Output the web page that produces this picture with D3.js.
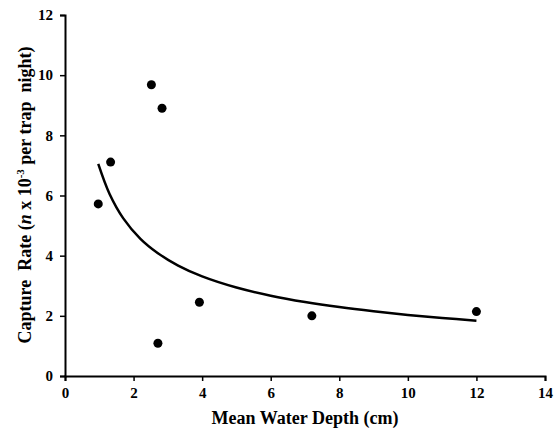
<!DOCTYPE html>
<html lang="en">
<head>
  <meta charset="UTF-8" />
  <script src="https://d3js.org/d3.v7.min.js"></script>
  <title>Capture rate</title>
  <style>
    body { margin: 0; background: #fff; }
    text { font-family: "Liberation Serif", "Times New Roman", serif; font-weight: bold; }
  </style>
</head>
<body>
<script type="text/javascript">
// observed points
var depth = [0.97, 1.33, 2.52, 2.83, 2.71, 3.92, 7.2, 12.0];
var rate  = [5.72, 7.11, 9.68, 8.9, 1.09, 2.45, 2.0, 2.14];
// trend line
var trendX = [0.97, 1.3, 1.7, 2.2, 2.7, 3.3, 4, 5, 6, 7, 8, 9, 10, 11, 12];
var trendY = [7.05, 6.05, 5.24, 4.56, 4.09, 3.67, 3.31, 2.94, 2.67, 2.46, 2.29, 2.15, 2.03, 1.93, 1.84];
var xTicks = [0, 2, 4, 6, 8, 10, 12, 14];
var yTicks = [0, 2, 4, 6, 8, 10, 12];

var width = 556, height = 430;
var svg = d3.select("body").append("svg").attr("width", width).attr("height", height);

var x = d3.scaleLinear().domain([0, 14]).range([65, 545]);
var y = d3.scaleLinear().domain([0, 12]).range([376, 15]);

var xAxis = svg.append("g")
  .attr("transform", "translate(0,376)")
  .call(d3.axisBottom(x).tickValues(xTicks).tickSize(5).tickPadding(6));
var yAxis = svg.append("g")
  .attr("transform", "translate(65,0)")
  .call(d3.axisLeft(y).tickValues(yTicks).tickSize(5).tickPadding(7));

[xAxis, yAxis].forEach(function(g){
  g.select(".domain").attr("stroke", "#000").attr("stroke-width", 2);
  g.selectAll(".tick line").attr("stroke", "#000").attr("stroke-width", 1.5);
  g.selectAll(".tick text").attr("fill", "#000").style("font-size", "15px")
    .style("font-family", "'Liberation Serif', serif").style("font-weight", "bold");
});

var pts = depth.map(function(d, i){ return [d, rate[i]]; });
var trend = trendX.map(function(d, i){ return [d, trendY[i]]; });

var line = d3.line().x(function(d){ return x(d[0]); }).y(function(d){ return y(d[1]); })
  .curve(d3.curveCatmullRom);
svg.append("path").datum(trend).attr("d", line)
  .attr("fill", "none").attr("stroke", "#000").attr("stroke-width", 2.5);

svg.selectAll("circle.pt").data(pts).enter().append("circle")
  .attr("class", "pt")
  .attr("cx", function(d){ return x(d[0]); })
  .attr("cy", function(d){ return y(d[1]); })
  .attr("r", 4.5).attr("fill", "#000");

svg.append("text")
  .attr("x", 305).attr("y", 424)
  .attr("text-anchor", "middle").style("font-size", "18px")
  .text("Mean Water Depth (cm)");

var yt = svg.append("text")
  .attr("transform", "translate(31,195) rotate(-90)")
  .attr("text-anchor", "middle").style("font-size", "18px")
  .attr("xml:space", "preserve");
yt.append("tspan").text("Capture  Rate (");
yt.append("tspan").style("font-style", "italic").text("n");
yt.append("tspan").text(" x 10");
yt.append("tspan").attr("dy", -7).style("font-size", "11px").text("-3");
yt.append("tspan").attr("dy", 7).text(" per trap  night)");
</script>
</body>
</html>
